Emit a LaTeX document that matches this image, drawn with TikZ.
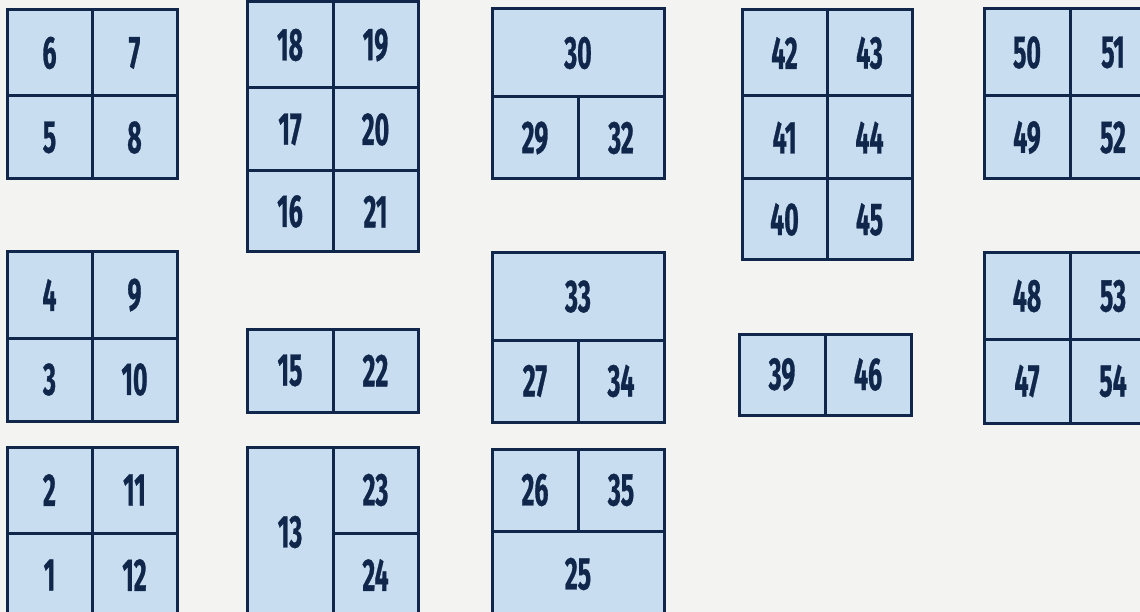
\documentclass[tikz,border=0pt]{standalone}
\usepackage{fontspec}
\setmainfont{Fira Sans}[FakeStretch=0.54]
\newfontfamily\cellfont{Fira Sans}[FakeStretch=0.54, FakeBold=0.6, UprightFont=*-Bold]
\definecolor{paper}{HTML}{F3F3F1}
\definecolor{cellfill}{HTML}{C8DEF0}
\definecolor{navy}{HTML}{10264A}
\tikzset{
  cell/.style={draw=navy, fill=cellfill, line width=3pt, inner sep=0pt,
    text=navy, font=\cellfont\fontsize{46}{46}\selectfont}
}
\newcommand\Cell[6]{\node[cell, minimum width={#4-#2}, minimum height={#5-#3}]
  (c#1) at ({(#2+#4)/2},{(#3+#5)/2}) {#6};}
\begin{document}
\begin{tikzpicture}[x=1pt,y=-1pt]
\useasboundingbox (0,0) rectangle (1140,612);
\clip (0,0) rectangle (1140,612);
\fill[paper] (0,0) rectangle (1140,612);
% column 1
\Cell{6}{7}{10}{92}{96}{6}
\Cell{7}{92}{10}{177}{96}{7}
\Cell{5}{7}{96}{92}{179}{5}
\Cell{8}{92}{96}{177}{179}{8}
\Cell{4}{7}{252}{92}{338}{4}
\Cell{9}{92}{252}{177}{338}{9}
\Cell{3}{7}{338}{92}{421}{3}
\Cell{10}{92}{338}{177}{421}{10}
\Cell{2}{7}{447}{92}{533}{2}
\Cell{11}{92}{447}{177}{533}{11}
\Cell{1}{7}{533}{92}{617}{1}
\Cell{12}{92}{533}{177}{617}{12}
% column 2
\Cell{18}{247}{2}{333}{88}{18}
\Cell{19}{333}{2}{418}{88}{19}
\Cell{17}{247}{88}{333}{171}{17}
\Cell{20}{333}{88}{418}{171}{20}
\Cell{16}{247}{171}{333}{252}{16}
\Cell{21}{333}{171}{418}{252}{21}
\Cell{15}{247}{329}{333}{412}{15}
\Cell{22}{333}{329}{418}{412}{22}
\Cell{13}{247}{447}{333}{617}{13}
\Cell{23}{333}{447}{418}{533}{23}
\Cell{24}{333}{533}{418}{617}{24}
% column 3
\Cell{30}{492}{9}{664}{97}{30}
\Cell{29}{492}{97}{578}{179}{29}
\Cell{32}{578}{97}{664}{179}{32}
\Cell{33}{492}{253}{664}{340}{33}
\Cell{27}{492}{340}{578}{422}{27}
\Cell{34}{578}{340}{664}{422}{34}
\Cell{26}{492}{449}{578}{531}{26}
\Cell{35}{578}{449}{664}{531}{35}
\Cell{25}{492}{531}{664}{617}{25}
% column 4
\Cell{42}{742}{10}{827}{96}{42}
\Cell{43}{827}{10}{912}{96}{43}
\Cell{41}{742}{96}{827}{179}{41}
\Cell{44}{827}{96}{912}{179}{44}
\Cell{40}{742}{179}{827}{260}{40}
\Cell{45}{827}{179}{912}{260}{45}
\Cell{39}{739}{334}{825}{415}{39}
\Cell{46}{825}{334}{911}{415}{46}
% column 5
\Cell{50}{984}{9}{1070}{96}{50}
\Cell{51}{1070}{9}{1156}{96}{51}
\Cell{49}{984}{96}{1070}{179}{49}
\Cell{52}{1070}{96}{1156}{179}{52}
\Cell{48}{984}{253}{1070}{339}{48}
\Cell{53}{1070}{253}{1156}{339}{53}
\Cell{47}{984}{339}{1070}{423}{47}
\Cell{54}{1070}{339}{1156}{423}{54}
\end{tikzpicture}
\end{document}
